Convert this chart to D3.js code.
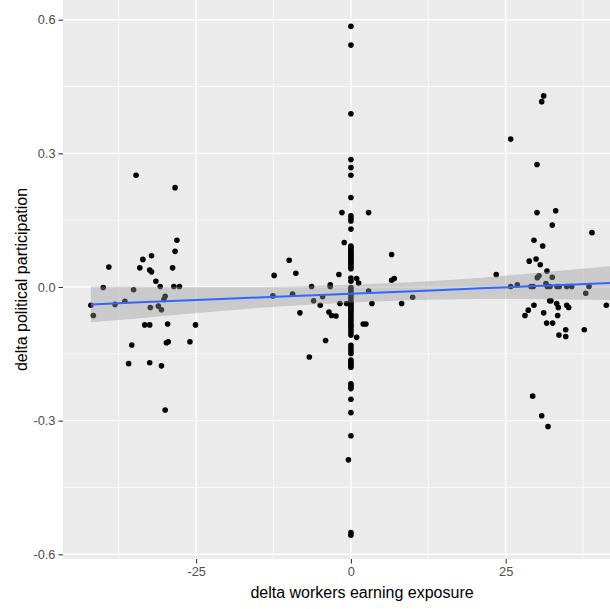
<!DOCTYPE html>
<html><head><meta charset="utf-8">
<script src="https://cdn.jsdelivr.net/npm/d3@7"></script>
<style>body{margin:0;background:#fff}svg{display:block;font-family:"Liberation Sans",Arial,sans-serif}</style>
</head><body><svg id="c" width="610" height="609"></svg>
<script>
// ---- data ----
const xTicks = [-25, 0, 25];
const xTickLabels = ["-25", "0", "25"];
const yTicks = [-0.6, -0.3, 0.0, 0.3, 0.6];
const yTickLabels = ["-0.6", "-0.3", "0.0", "0.3", "0.6"];
const xMinor = [-37.5, -12.5, 12.5, 37.5];
const yMinor = [-0.45, -0.15, 0.15, 0.45];
const xTitle = "delta workers earning exposure";
const yTitle = "delta political participation";

const clusterLeft = [[-34.7,0.251],[-28.4,0.223],[-28.1,0.105],[-28.4,0.080],[-32.2,0.070],[-33.6,0.062],[-39.1,0.045],[-34.1,0.043],[-28.8,0.043],[-32.5,0.038],[-32.2,0.034],[-31.5,0.013],[-30.8,0.001],[-28.6,0.001],[-27.7,0.001],[-40.0,-0.001],[-35.1,-0.006],[-30.0,-0.021],[-30.2,-0.028],[-36.5,-0.032],[-42.0,-0.041],[-38.1,-0.039],[-32.4,-0.046],[-31.1,-0.043],[-30.6,-0.051],[-41.6,-0.064],[-33.3,-0.085],[-32.5,-0.085],[-29.6,-0.083],[-25.1,-0.085],[-35.4,-0.130],[-29.8,-0.125],[-29.5,-0.123],[-26.0,-0.123],[-35.9,-0.172],[-32.5,-0.170],[-30.6,-0.177],[-30.0,-0.276]];
const clusterMid = [[-1.45,0.167],[2.85,0.167],[-1.08,0.100],[-1.94,0.028],[-6.35,0.001],[-3.34,0.005],[-3.34,0.001],[0.92,0.019],[1.24,0.009],[2.85,-0.009],[-4.57,-0.022],[-6.03,-0.031],[-4.96,-0.041],[-1.78,-0.037],[-0.7,-0.037],[3.39,-0.037],[-8.24,-0.058],[-3.55,-0.056],[-3.12,-0.064],[-2.42,-0.065],[1.99,-0.083],[2.42,-0.083],[0.92,-0.113],[-4.09,-0.120],[-6.72,-0.157],[6.57,0.073],[6.57,0.015],[7.0,0.019],[8.19,-0.037],[9.97,-0.023],[-9.97,0.060],[-12.4,0.026],[-8.89,0.031],[-12.6,-0.020],[-9.42,-0.016],[-0.4,-0.388]];
const zeroColumnY = [0.585,0.543,0.389,0.286,0.268,0.251,0.201,0.160,0.154,0.148,0.130,0.092,0.088,0.084,0.080,0.076,0.073,0.069,0.065,0.061,0.058,0.054,0.050,0.045,0.041,0.020,0.013,-0.001,-0.006,-0.011,-0.016,-0.022,-0.028,-0.034,-0.038,-0.043,-0.047,-0.051,-0.055,-0.060,-0.065,-0.071,-0.076,-0.082,-0.086,-0.090,-0.096,-0.101,-0.108,-0.131,-0.136,-0.142,-0.149,-0.164,-0.168,-0.172,-0.176,-0.180,-0.217,-0.221,-0.224,-0.228,-0.252,-0.282,-0.334,-0.551,-0.557];
const clusterRight = [[30.05,0.275],[30.05,0.167],[33.07,0.171],[32.52,0.139],[38.93,0.122],[29.56,0.105],[30.97,0.092],[28.8,0.058],[29.9,0.063],[30.58,0.050],[31.66,0.036],[23.47,0.028],[30.1,0.021],[30.37,0.025],[32.52,0.022],[31.5,0.008],[25.8,0.001],[26.87,0.005],[29.08,0.001],[29.45,0.001],[31.71,0.001],[32.15,0.001],[33.28,0.001],[33.65,0.001],[34.85,0.001],[35.66,0.001],[38.45,0.001],[37.92,-0.014],[41.25,-0.041],[29.56,-0.041],[28.64,-0.052],[28.11,-0.064],[31.13,-0.058],[32.1,-0.031],[32.3,-0.031],[33.23,-0.037],[33.49,-0.046],[34.85,-0.041],[35.17,-0.046],[33.39,-0.064],[31.61,-0.081],[32.58,-0.081],[34.69,-0.096],[33.6,-0.108],[34.69,-0.111],[37.69,-0.096],[29.35,-0.245],[30.81,-0.289],[31.83,-0.313],[31.13,0.429],[30.81,0.416],[25.8,0.332]];

// linear fit and its 95% band
const smoothX  = [-42, -35, -28, -21, -14, -7, 0, 7, 14, 21, 28, 35, 42, 46];
const smoothY  = [-0.039, -0.035, -0.031, -0.027, -0.023, -0.019, -0.015, -0.011, -0.007, -0.003, 0.001, 0.005, 0.009, 0.012];
const smoothLo = [-0.079, -0.071, -0.062, -0.054, -0.046, -0.040, -0.035, -0.031, -0.028, -0.027, -0.027, -0.028, -0.029, -0.029];
const smoothHi = [0.001, 0.001, 0.000, 0.000, 0.000, 0.002, 0.005, 0.009, 0.014, 0.021, 0.029, 0.038, 0.047, 0.053];

// ---- chart ----
const svg = d3.select("#c");
const P = {l: 63, t: 0, b: 559, r: 676};
const x = d3.scaleLinear().domain([-46.5, 52.5]).range([P.l, P.r]);
const y = d3.scaleLinear().domain([-0.6105, 0.6442]).range([P.b, P.t]);

svg.append("defs").append("clipPath").attr("id","clip")
  .append("rect").attr("x",P.l).attr("y",P.t).attr("width",P.r-P.l).attr("height",P.b-P.t);

svg.append("rect").attr("x",P.l).attr("y",P.t).attr("width",P.r-P.l).attr("height",P.b-P.t).attr("fill","#EBEBEB");

const grid = svg.append("g").attr("clip-path","url(#clip)");
grid.selectAll(".ymin").data(yMinor).join("line")
  .attr("x1",P.l).attr("x2",P.r).attr("y1",d=>y(d)).attr("y2",d=>y(d))
  .attr("stroke","#fff").attr("stroke-width",0.7);
grid.selectAll(".xmin").data(xMinor).join("line")
  .attr("y1",P.t).attr("y2",P.b).attr("x1",d=>x(d)).attr("x2",d=>x(d))
  .attr("stroke","#fff").attr("stroke-width",0.7);
grid.selectAll(".ymaj").data(yTicks).join("line")
  .attr("x1",P.l).attr("x2",P.r).attr("y1",d=>y(d)).attr("y2",d=>y(d))
  .attr("stroke","#fff").attr("stroke-width",1.4);
grid.selectAll(".xmaj").data(xTicks).join("line")
  .attr("y1",P.t).attr("y2",P.b).attr("x1",d=>x(d)).attr("x2",d=>x(d))
  .attr("stroke","#fff").attr("stroke-width",1.4);

const pts = [].concat(clusterLeft, clusterMid, zeroColumnY.map(v=>[0,v]), clusterRight);
const plot = svg.append("g").attr("clip-path","url(#clip)");
plot.selectAll("circle").data(pts).join("circle")
  .attr("cx",d=>x(d[0])).attr("cy",d=>y(d[1])).attr("r",2.8).attr("fill","#000");

const band = smoothX.map((v,i)=>({x:v, y:smoothY[i], lo:smoothLo[i], hi:smoothHi[i]}));
plot.append("path").datum(band)
  .attr("d", d3.area().x(d=>x(d.x)).y0(d=>y(d.lo)).y1(d=>y(d.hi)))
  .attr("fill","#999999").attr("fill-opacity",0.4);
plot.append("path").datum(band)
  .attr("d", d3.line().x(d=>x(d.x)).y(d=>y(d.y)))
  .attr("fill","none").attr("stroke","#3366FF").attr("stroke-width",2);

// axes
const yAxis = d3.axisLeft(y).tickValues(yTicks).tickFormat((d,i)=>yTickLabels[i]).tickSize(4.5).tickPadding(3);
const gy = svg.append("g").attr("transform",`translate(${P.l},0)`).call(yAxis);
const xAxis = d3.axisBottom(x).tickValues(xTicks).tickFormat((d,i)=>xTickLabels[i]).tickSize(4.5).tickPadding(3);
const gx = svg.append("g").attr("transform",`translate(0,${P.b})`).call(xAxis);
[gx, gy].forEach(g=>{
  g.select(".domain").remove();
  g.selectAll(".tick line").attr("stroke","#333333").attr("stroke-width",1.1);
  g.selectAll(".tick text").attr("fill","#4D4D4D").style("font-size","12.8px").style("font-family","'Liberation Sans',Arial,sans-serif");
});

svg.append("text").attr("x",362).attr("y",598).attr("text-anchor","middle")
  .style("font-size","16px").attr("fill","#000").text(xTitle);
svg.append("text").attr("transform",`translate(27,${(P.t+P.b)/2}) rotate(-90)`).attr("text-anchor","middle")
  .style("font-size","16px").attr("fill","#000").text(yTitle);
</script></body></html>
